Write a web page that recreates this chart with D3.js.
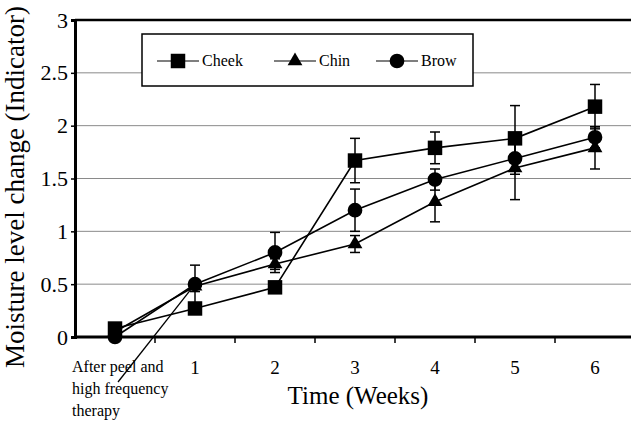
<!DOCTYPE html>
<html>
<head>
<meta charset="utf-8">
<style>
  body { margin: 0; background: #fff; }
  text { font-family: "Liberation Serif", "Times New Roman", serif; fill: #000; }
</style>
</head>
<body>
<svg width="631" height="426"></svg>
<script src="https://d3js.org/d3.v7.min.js"></script>
<script>

    // data
    var categories = ["0", "1", "2", "3", "4", "5", "6"];
    var tickLabels = [["After peel and", "high frequency", "therapy"], ["1"], ["2"], ["3"], ["4"], ["5"], ["6"]];
    var yTicks = [0, 0.5, 1, 1.5, 2, 2.5, 3];

    var cheek    = [0.08, 0.27, 0.47, 1.67, 1.79, 1.88, 2.18];
    var cheekErr = [0.03, 0.05, 0.05, 0.21, 0.15, 0.31, 0.21];
    var chin     = [0.05, 0.48, 0.69, 0.88, 1.28, 1.6, 1.79];
    var chinErr  = [0.03, 0.05, 0.05, 0.08, 0.19, 0.3, 0.2];
    var brow     = [0.0, 0.5, 0.8, 1.2, 1.49, 1.69, 1.89];
    var browErr  = [0.02, 0.18, 0.19, 0.2, 0.1, 0.15, 0.1];

    var series = [
        { name: "Cheek", values: cheek, err: cheekErr, symbol: d3.symbolSquare, size: 210 },
        { name: "Chin",  values: chin,  err: chinErr,  symbol: d3.symbolTriangle, size: 95 },
        { name: "Brow",  values: brow,  err: browErr,  symbol: d3.symbolCircle, size: 170 }
    ];

    var svg = d3.select("svg"),
        width = +svg.attr("width"),
        height = +svg.attr("height");

    var plotL = 75, plotR = 635, plotT = 20, plotB = 337;

    var x = d3.scaleBand().domain(categories).range([plotL, plotR]);
    var y = d3.scaleLinear().domain([0, 3]).range([plotB, plotT]);
    var cx = function(i) { return x(categories[i]) + x.bandwidth() / 2; };

    // grid
    svg.append("g")
        .selectAll("line")
        .data(yTicks.slice(1, -1))
        .enter().append("line")
        .attr("x1", plotL).attr("x2", width)
        .attr("y1", function(d) { return y(d); })
        .attr("y2", function(d) { return y(d); })
        .attr("stroke", "#8a8a8a")
        .attr("stroke-width", 1);

    // top border
    svg.append("line")
        .attr("x1", plotL).attr("x2", width)
        .attr("y1", y(3)).attr("y2", y(3))
        .attr("stroke", "#000").attr("stroke-width", 2.5);

    // y axis
    var yAxis = svg.append("g")
        .attr("transform", "translate(" + plotL + ",0)")
        .call(d3.axisLeft(y).tickValues(yTicks).tickSize(4).tickPadding(3)
            .tickFormat(function(d) { return d; }));
    yAxis.select(".domain").attr("stroke-width", 3);
    yAxis.selectAll(".tick line").attr("stroke-width", 1.5);
    yAxis.selectAll("text")
        .style("font-family", "Liberation Serif")
        .style("font-size", "22px");

    // x axis
    var xAxis = svg.append("g")
        .attr("transform", "translate(0," + plotB + ")")
        .call(d3.axisBottom(x).tickSize(0).tickFormat(""));
    xAxis.select(".domain").attr("stroke-width", 3).attr("d", "M" + plotL + ",0H" + width);
    xAxis.selectAll(".tick line").remove();

    // tick marks between categories
    svg.append("g")
        .selectAll("line")
        .data(categories.slice(1))
        .enter().append("line")
        .attr("x1", function(d) { return x(d); })
        .attr("x2", function(d) { return x(d); })
        .attr("y1", plotB).attr("y2", plotB + 6)
        .attr("stroke", "#000").attr("stroke-width", 1.5);

    // category labels
    tickLabels.forEach(function(lines, i) {
        if (lines.length > 1) {
            var t = svg.append("text")
                .attr("x", 72).attr("y", 372)
                .style("font-size", "16px");
            lines.forEach(function(s, j) {
                t.append("tspan").attr("x", 72).attr("dy", j ? 22 : 0).text(s);
            });
        } else {
            svg.append("text")
                .attr("x", cx(i)).attr("y", 374)
                .attr("text-anchor", "middle")
                .style("font-size", "19px")
                .text(lines[0]);
        }
    });

    // axis titles
    svg.append("text")
        .attr("transform", "translate(24,187) rotate(-90)")
        .attr("text-anchor", "middle")
        .style("font-size", "27px")
        .text("Moisture level change (Indicator)");

    svg.append("text")
        .attr("x", 358).attr("y", 404)
        .attr("text-anchor", "middle")
        .style("font-size", "25px")
        .text("Time (Weeks)");

    // leader line from first label to week 1
    svg.append("line")
        .attr("x1", 118).attr("y1", 382)
        .attr("x2", cx(1)).attr("y2", y(brow[1]))
        .attr("stroke", "#000").attr("stroke-width", 1.3);

    var line = d3.line()
        .x(function(d, i) { return cx(i); })
        .y(function(d) { return y(d); });

    // lines
    series.forEach(function(s) {
        svg.append("path")
            .datum(s.values)
            .attr("d", line)
            .attr("fill", "none")
            .attr("stroke", "#000")
            .attr("stroke-width", 1.6);
    });

    // error bars
    series.forEach(function(s) {
        var g = svg.append("g").attr("stroke", "#000").attr("stroke-width", 1.5);
        s.values.forEach(function(v, i) {
            var e = s.err[i];
            g.append("line").attr("x1", cx(i)).attr("x2", cx(i))
                .attr("y1", y(v - e)).attr("y2", y(v + e));
            [v - e, v + e].forEach(function(c) {
                g.append("line").attr("x1", cx(i) - 5).attr("x2", cx(i) + 5)
                    .attr("y1", y(c)).attr("y2", y(c));
            });
        });
    });

    // markers
    series.forEach(function(s) {
        svg.append("g")
            .selectAll("path")
            .data(s.values)
            .enter().append("path")
            .attr("transform", function(d, i) { return "translate(" + cx(i) + "," + y(d) + ")"; })
            .attr("d", d3.symbol().type(s.symbol).size(s.size))
            .attr("fill", "#000");
    });

    // legend
    var legend = svg.append("g");
    legend.append("rect")
        .attr("x", 142).attr("y", 34)
        .attr("width", 331).attr("height", 52)
        .attr("fill", "#fff")
        .attr("stroke", "#000").attr("stroke-width", 1.5);

    var legendX = [178, 295, 397];
    series.forEach(function(s, i) {
        var g = legend.append("g").attr("transform", "translate(" + legendX[i] + ",61)");
        g.append("line").attr("x1", -21).attr("x2", 21)
            .attr("stroke", "#000").attr("stroke-width", 1.2);
        g.append("path")
            .attr("d", d3.symbol().type(s.symbol).size(s.size))
            .attr("fill", "#000");
        g.append("text")
            .attr("x", 24).attr("y", 5)
            .style("font-size", "16px")
            .text(s.name);
    });

</script>
</body>
</html>
